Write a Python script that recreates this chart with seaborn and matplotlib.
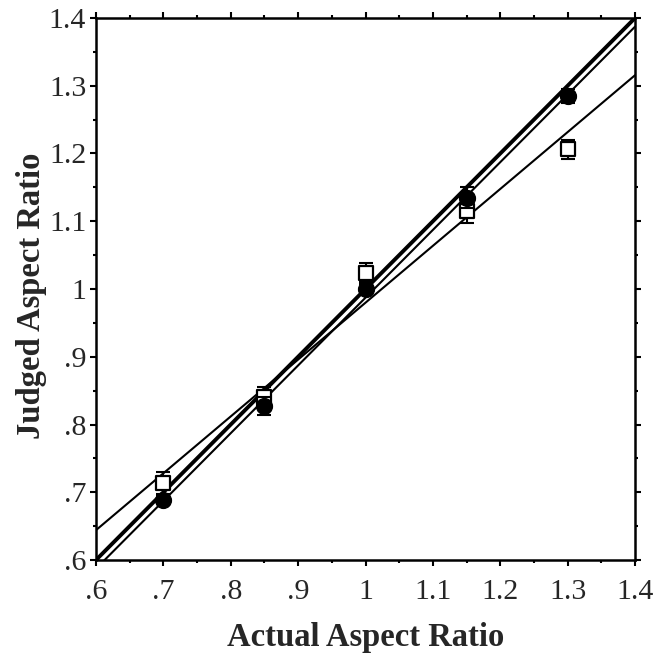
import numpy as np
import pandas as pd
import matplotlib
matplotlib.use("Agg")
import matplotlib.pyplot as plt
from matplotlib.ticker import MultipleLocator, FixedLocator, FixedFormatter
import seaborn as sns

# Data
actual = [0.70, 0.85, 1.00, 1.15, 1.30]
judged_filled = [0.689, 0.827, 1.000, 1.135, 1.285]
err_filled = [0.006, 0.013, 0.008, 0.016, 0.010]
judged_open = [0.714, 0.840, 1.024, 1.115, 1.206]
err_open = [0.016, 0.015, 0.014, 0.017, 0.014]
tick_vals = [0.6, 0.7, 0.8, 0.9, 1.0, 1.1, 1.2, 1.3, 1.4]
tick_labels = [".6", ".7", ".8", ".9", "1", "1.1", "1.2", "1.3", "1.4"]

df = pd.DataFrame({"actual": actual * 2,
                   "judged": judged_filled + judged_open,
                   "err": err_filled + err_open,
                   "cond": ["filled"] * 5 + ["open"] * 5})

sns.set_theme(style="ticks")
plt.rcParams["font.family"] = ["Liberation Serif", "DejaVu Serif"]

fig = plt.figure(figsize=(6.66, 6.54), dpi=100)
ax = fig.add_axes([0.1441, 0.1437, 0.8094, 0.8288])
ax.set_xlim(0.6, 1.4)
ax.set_ylim(0.6, 1.4)

# identity line (thick)
ax.axline((1.0, 1.0), slope=1.0, color="black", lw=2.8, zorder=2)

# regression lines
for cond in ["filled", "open"]:
    sub = df[df.cond == cond]
    sns.regplot(data=sub, x="actual", y="judged", ax=ax, scatter=False,
                ci=None, truncate=False,
                line_kws=dict(color="black", lw=1.5, zorder=2))

sub_o = df[df.cond == "open"]
ax.errorbar(sub_o.actual, sub_o.judged, yerr=sub_o.err, fmt="none",
            ecolor="black", elinewidth=1.5, capsize=5, capthick=1.5, zorder=3)
sns.scatterplot(data=sub_o, x="actual", y="judged", ax=ax, marker="s",
                s=100, facecolor="white", edgecolor="black", linewidth=1.6,
                zorder=4, legend=False)

sub_f = df[df.cond == "filled"]
ax.errorbar(sub_f.actual, sub_f.judged, yerr=sub_f.err, fmt="none",
            ecolor="black", elinewidth=1.5, capsize=5, capthick=1.5, zorder=5)
sns.scatterplot(data=sub_f, x="actual", y="judged", ax=ax, marker="o",
                s=130, color="black", edgecolor="black", linewidth=1,
                zorder=6, legend=False)

ax.set_xlim(0.6, 1.4)
ax.set_ylim(0.6, 1.4)

for axis in (ax.xaxis, ax.yaxis):
    axis.set_major_locator(FixedLocator(tick_vals))
    axis.set_major_formatter(FixedFormatter(tick_labels))
    axis.set_minor_locator(MultipleLocator(0.05))

ax.tick_params(which="both", direction="out", top=True, right=True,
               labeltop=False, labelright=False, color="black", width=1.5)
ax.tick_params(which="major", length=4, labelsize=21.5)
ax.tick_params(which="minor", length=2.5)
ax.tick_params(axis="x", which="major", pad=10)
ax.tick_params(axis="y", which="major", pad=3)
for s in ax.spines.values():
    s.set_visible(True)
    s.set_linewidth(1.8)
    s.set_color("black")

ax.set_xlabel("Actual Aspect Ratio", fontsize=23.5, fontweight="bold", labelpad=12)
ax.set_ylabel("Judged Aspect Ratio", fontsize=23.5, fontweight="bold")
ax.yaxis.set_label_coords(-0.09, 0.487)

fig.savefig("out.png", dpi=100)
